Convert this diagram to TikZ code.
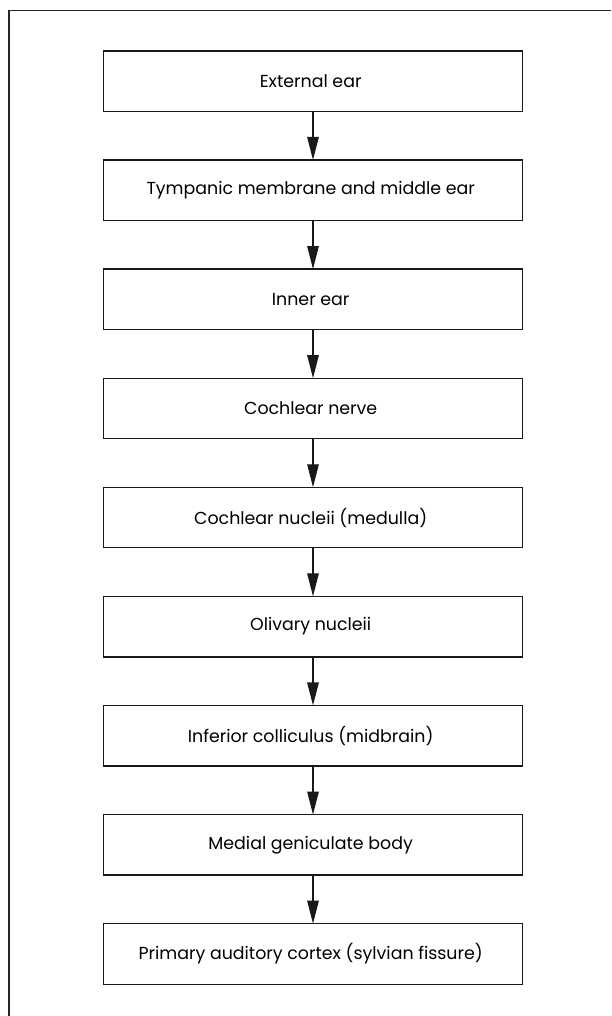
\documentclass[tikz,border=0pt]{standalone}
\usepackage{fontspec}
\setmainfont{Poppins}
\usepackage{tikz}
\usetikzlibrary{matrix,arrows.meta}

\begin{document}
\begin{tikzpicture}[x=1pt,y=1pt,
    pathway/.style={-{Triangle[length=23pt,width=11.5pt]},line width=1.3pt,draw=black!90}
    ]
            \useasboundingbox (0,0) rectangle (611,-1016);
            %outer frame, only left and top edges are visible
            \draw[line width=1.6pt,draw=black!85] (8.7,-1016) -- (8.7,-10.7) -- (611,-10.7);

            \matrix (m) [matrix of nodes,
                anchor=north,inner sep=0pt,
                nodes={draw=black!90,line width=1.3pt,minimum width=419pt,minimum height=60.5pt,
                    outer sep=0pt,align=center,font=\fontsize{17.4}{20}\selectfont},
                row sep=47.3pt
                ] at (313,-50) {
                    %Insert the stages of the auditory pathway here
                    External ear \\
                    Tympanic membrane and middle ear \\
                    Inner ear \\
                    Cochlear nerve \\
                    Cochlear nucleii (medulla) \\
                    Olivary nucleii \\
                    Inferior colliculus (midbrain) \\
                    Medial geniculate body \\
                    Primary auditory cortex (sylvian fissure) \\};

                \draw[pathway] (m-1-1) -- (m-2-1);
                \draw[pathway] (m-2-1) -- (m-3-1);
                \draw[pathway] (m-3-1) -- (m-4-1);
                \draw[pathway] (m-4-1) -- (m-5-1);
                \draw[pathway] (m-5-1) -- (m-6-1);
                \draw[pathway] (m-6-1) -- (m-7-1);
                \draw[pathway] (m-7-1) -- (m-8-1);
                \draw[pathway] (m-8-1) -- (m-9-1);
        \end{tikzpicture}
\end{document}
